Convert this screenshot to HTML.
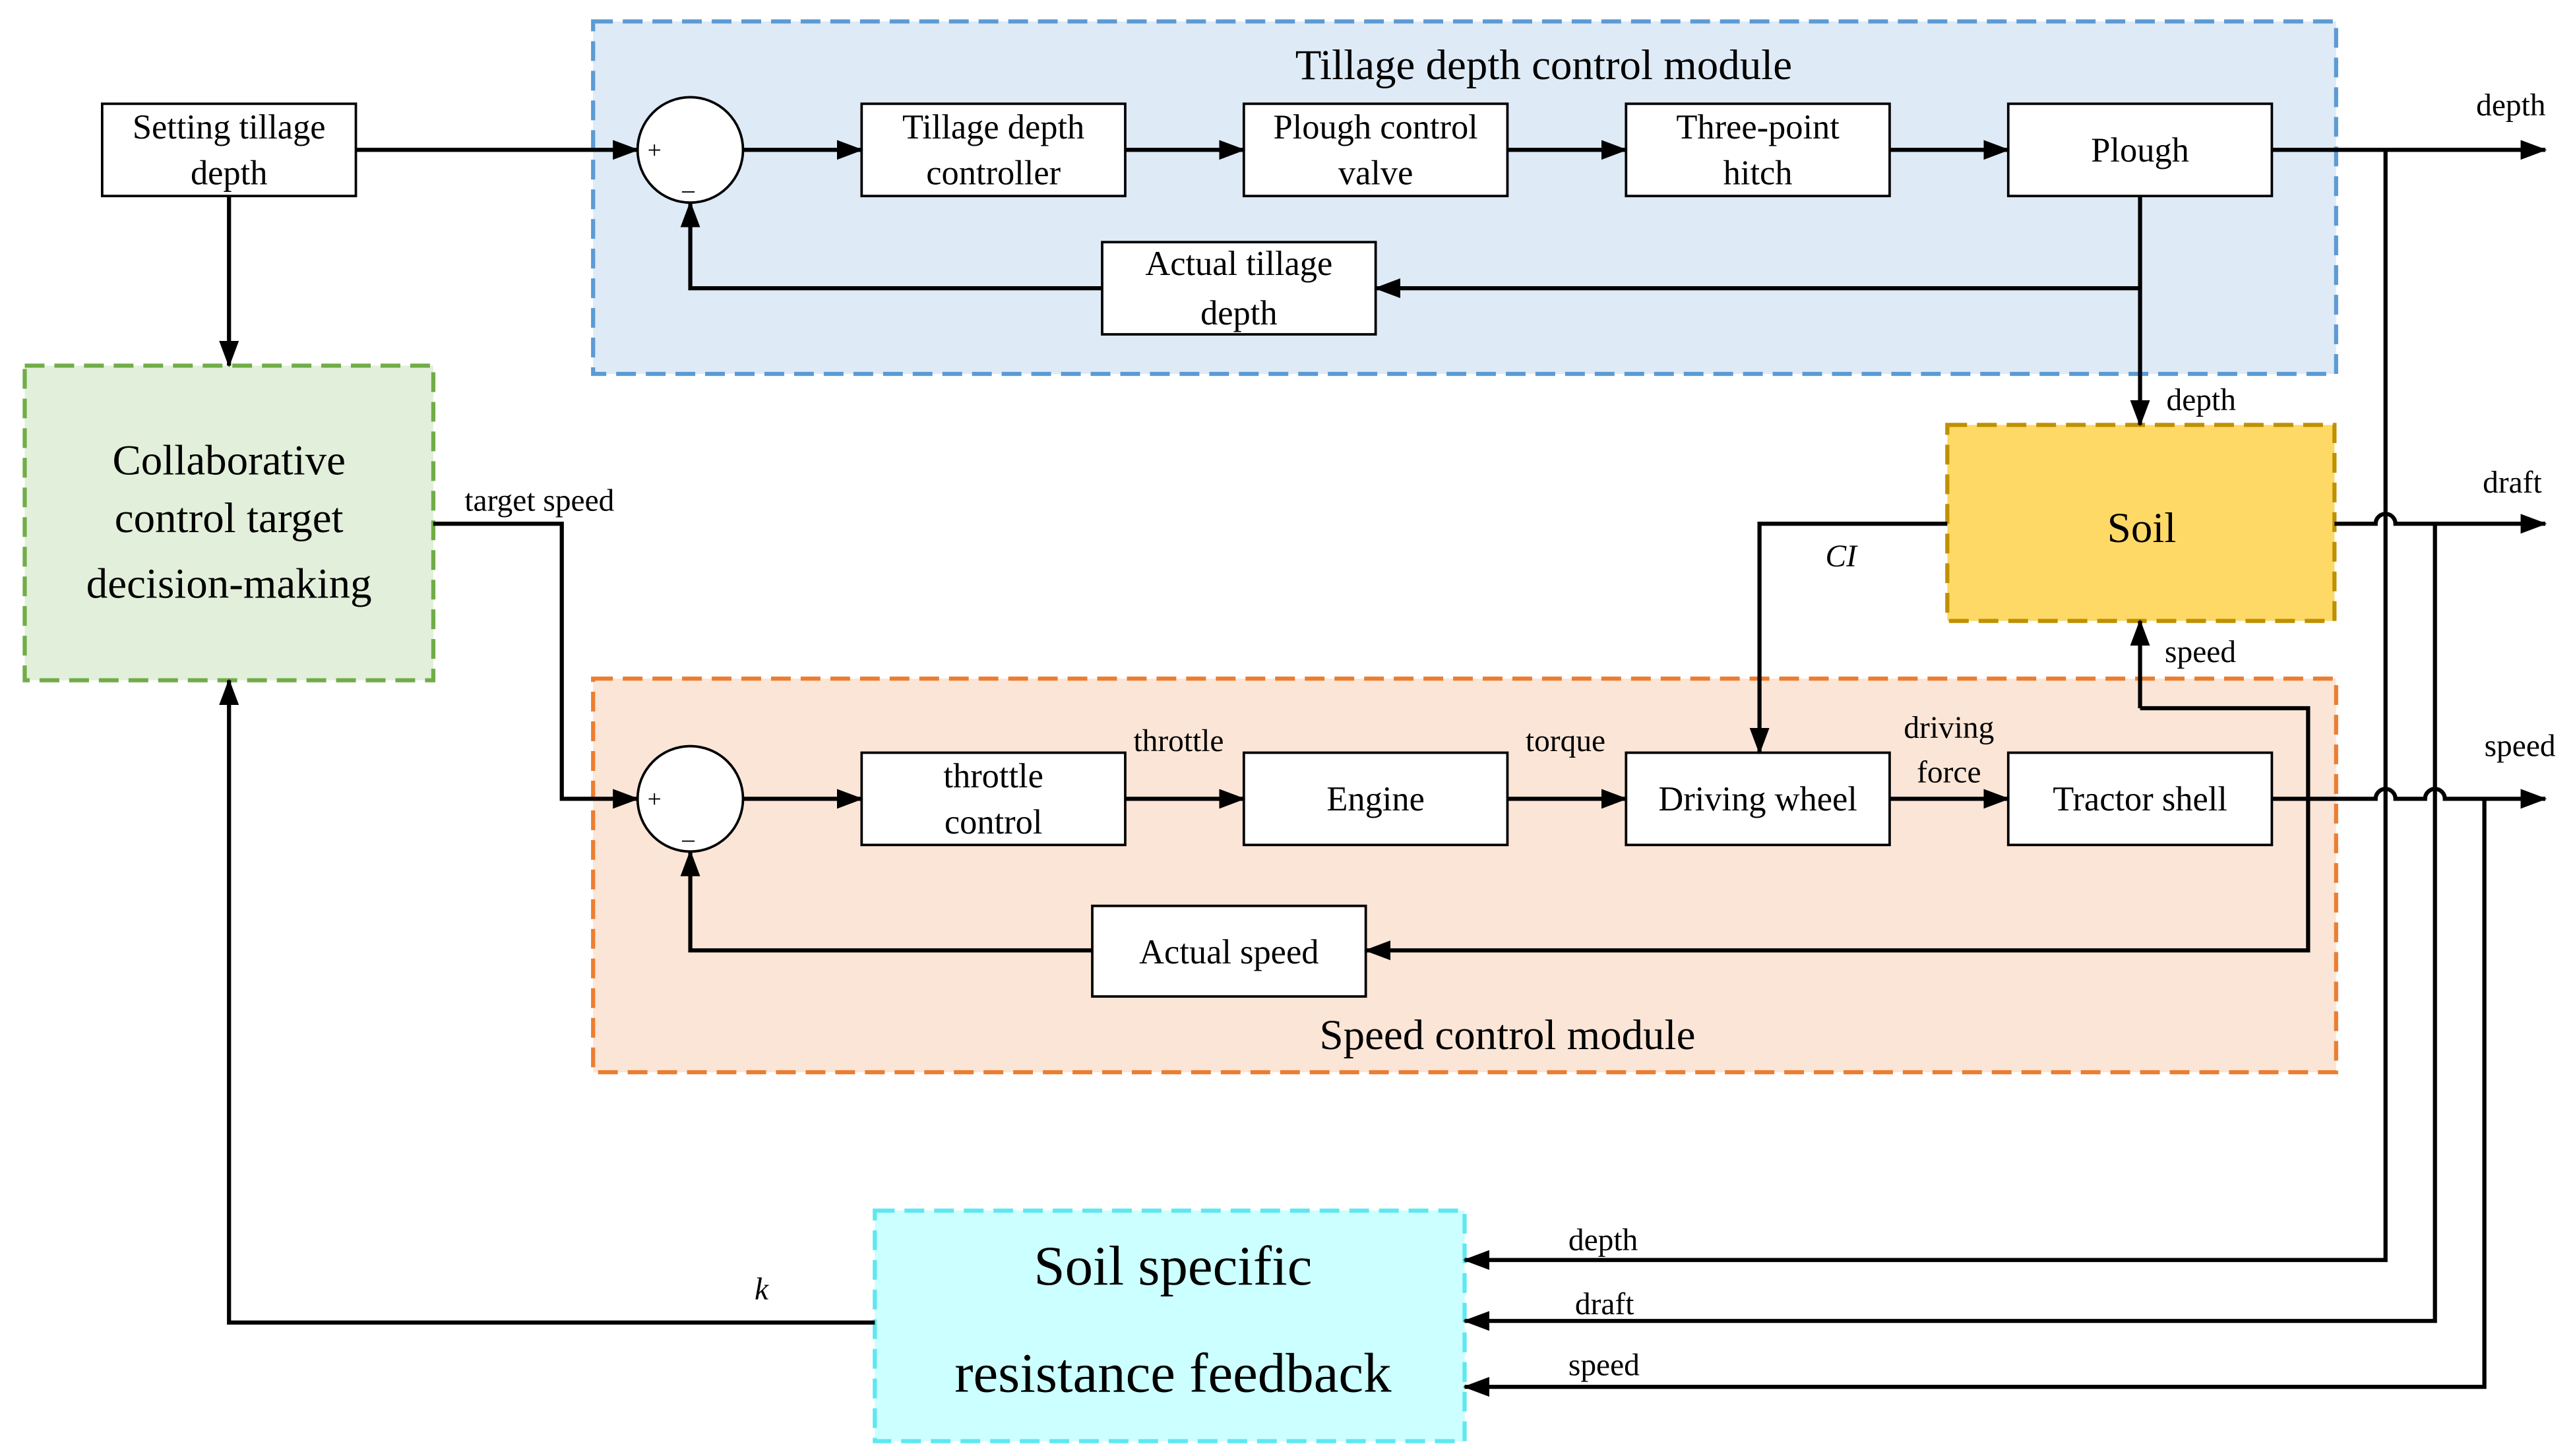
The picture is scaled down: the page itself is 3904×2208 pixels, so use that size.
<!DOCTYPE html>
<html><head><meta charset="utf-8"><style>
html,body{margin:0;padding:0;background:#fff;}
svg{display:block;}
text{font-family:"Liberation Serif",serif;fill:#000;}
</style></head><body>
<svg width="3904" height="2208" viewBox="0 0 1563 884" xmlns="http://www.w3.org/2000/svg">
<defs>
<marker id="a" markerWidth="16" markerHeight="12" refX="15" refY="6" orient="auto" markerUnits="userSpaceOnUse">
<path d="M0,0 L16,6 L0,12 Z" fill="#000"/></marker>
</defs>
<rect width="1563" height="884" fill="#fff"/>
<!-- modules -->
<rect x="360" y="13" width="1058" height="214" fill="#deeaf6" stroke="#5b9bd5" stroke-width="2.5" stroke-dasharray="12,6"/>
<text x="937" y="48" font-size="26" text-anchor="middle">Tillage depth control module</text>
<rect x="360" y="412" width="1058" height="239" fill="#fbe5d6" stroke="#ed7d31" stroke-width="2.5" stroke-dasharray="12,6"/>
<text x="915" y="637" font-size="26" text-anchor="middle">Speed control module</text>
<rect x="15" y="222" width="248" height="191" fill="#e2efda" stroke="#70ad47" stroke-width="2.5" stroke-dasharray="12,6"/>
<text x="139" y="288" font-size="26" text-anchor="middle">Collaborative</text>
<text x="139" y="323" font-size="26" text-anchor="middle">control target</text>
<text x="139" y="363" font-size="26" text-anchor="middle">decision-making</text>
<rect x="1182" y="258" width="235" height="119" fill="#ffd966" stroke="#bf9000" stroke-width="2.5" stroke-dasharray="12,6"/>
<text x="1300" y="329" font-size="26" text-anchor="middle">Soil</text>
<rect x="531" y="735" width="358" height="140" fill="#ccffff" stroke="#5ee8f0" stroke-width="2.5" stroke-dasharray="12,6"/>
<text x="712" y="780" font-size="34" text-anchor="middle">Soil specific</text>
<text x="712" y="845" font-size="34" text-anchor="middle">resistance feedback</text>
<!-- boxes -->
<g fill="#fff" stroke="#000" stroke-width="1.5">
<rect x="62" y="63" width="154" height="56"/>
<rect x="523" y="63" width="160" height="56"/>
<rect x="755" y="63" width="160" height="56"/>
<rect x="987" y="63" width="160" height="56"/>
<rect x="1219" y="63" width="160" height="56"/>
<rect x="669" y="147" width="166" height="56"/>
<rect x="523" y="457" width="160" height="56"/>
<rect x="755" y="457" width="160" height="56"/>
<rect x="987" y="457" width="160" height="56"/>
<rect x="1219" y="457" width="160" height="56"/>
<rect x="663" y="550" width="166" height="55"/>
<circle cx="419" cy="91" r="32"/>
<circle cx="419" cy="485" r="32"/>
</g>
<g font-size="21" text-anchor="middle">
<text x="139" y="84">Setting tillage</text><text x="139" y="112">depth</text>
<text x="603" y="84">Tillage depth</text><text x="603" y="112">controller</text>
<text x="835" y="84">Plough control</text><text x="835" y="112">valve</text>
<text x="1067" y="84">Three-point</text><text x="1067" y="112">hitch</text>
<text x="1299" y="98">Plough</text>
<text x="752" y="167">Actual tillage</text><text x="752" y="197">depth</text>
<text x="603" y="478">throttle</text><text x="603" y="506">control</text>
<text x="835" y="492">Engine</text>
<text x="1067" y="492">Driving wheel</text>
<text x="1299" y="492">Tractor shell</text>
<text x="746" y="585">Actual speed</text>
</g>
<g font-size="15"><text x="393" y="96">+</text><text x="414" y="120">–</text>
<text x="393" y="490">+</text><text x="414" y="514">–</text></g>
<!-- connectors -->
<g stroke="#000" stroke-width="2.5" fill="none">
<path d="M216,91 H387" marker-end="url(#a)"/>
<path d="M139,119 V222" marker-end="url(#a)"/>
<path d="M451,91 H523" marker-end="url(#a)"/>
<path d="M683,91 H755" marker-end="url(#a)"/>
<path d="M915,91 H987" marker-end="url(#a)"/>
<path d="M1147,91 H1219" marker-end="url(#a)"/>
<path d="M1379,91 H1545" marker-end="url(#a)"/>
<path d="M1299,119 V258" marker-end="url(#a)"/>
<path d="M1299,175 H835" marker-end="url(#a)"/>
<path d="M669,175 H419 V123" marker-end="url(#a)"/>
<path d="M1448,91 V765 H889" marker-end="url(#a)"/>
<path d="M1417,318 H1442 A6,6 0 0 1 1454,318 H1545" marker-end="url(#a)"/>
<path d="M1478,318 V802 H889" marker-end="url(#a)"/>
<path d="M1379,485 H1442 A6,6 0 0 1 1454,485 H1472 A6,6 0 0 1 1484,485 H1545" marker-end="url(#a)"/>
<path d="M1508,485 V842 H889" marker-end="url(#a)"/>
<path d="M1299,430 H1401 V577 H829" marker-end="url(#a)"/>
<path d="M1299,430 V377" marker-end="url(#a)"/>
<path d="M663,577 H419 V517" marker-end="url(#a)"/>
<path d="M1182,318 H1068 V457" marker-end="url(#a)"/>
<path d="M263,318 H341 V485 H387" marker-end="url(#a)"/>
<path d="M451,485 H523" marker-end="url(#a)"/>
<path d="M683,485 H755" marker-end="url(#a)"/>
<path d="M915,485 H987" marker-end="url(#a)"/>
<path d="M1147,485 H1219" marker-end="url(#a)"/>
<path d="M531,803 H139 V413" marker-end="url(#a)"/>
</g>
<g font-size="19">
<text x="1503" y="70">depth</text>
<text x="1507" y="299">draft</text>
<text x="1508" y="459">speed</text>
<text x="1315" y="249">depth</text>
<text x="1314" y="402">speed</text>
<text x="282" y="310">target speed</text>
<text x="688" y="456">throttle</text>
<text x="926" y="456">torque</text>
<text x="1183" y="448" text-anchor="middle">driving</text>
<text x="1183" y="475" text-anchor="middle">force</text>
<text x="952" y="759">depth</text>
<text x="956" y="798">draft</text>
<text x="952" y="835">speed</text>
<text x="1108" y="344" font-style="italic">CI</text>
<text x="458" y="789" font-style="italic">k</text>
</g>
</svg>
</body></html>
